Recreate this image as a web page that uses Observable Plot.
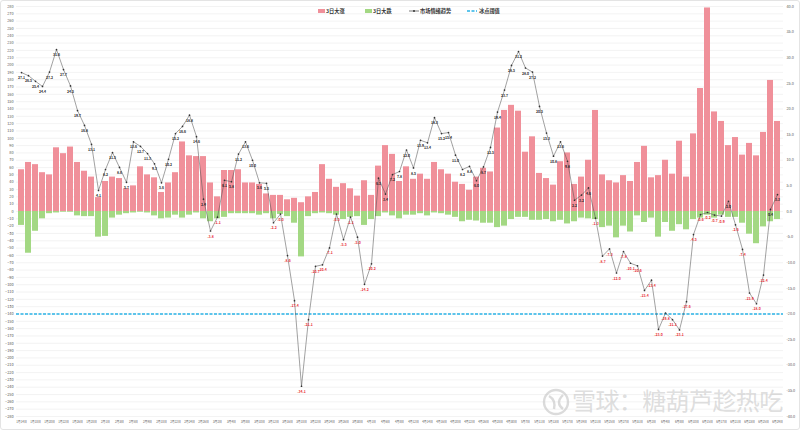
<!DOCTYPE html>
<html><head><meta charset="utf-8">
<script src="https://cdn.jsdelivr.net/npm/d3@7"></script>
<script src="https://cdn.jsdelivr.net/npm/@observablehq/plot@0.6"></script>
<style>
body{margin:0;background:#fff;font-family:"Noto Sans CJK SC","Noto Sans",sans-serif;}
#wrap{position:relative;width:800px;height:430px;overflow:hidden;background:#fff}
#frame{position:absolute;left:0;top:0;width:798px;height:428px;border:1px solid #e4e4e4;border-radius:3px;pointer-events:none}
.lg{position:absolute;top:8px;font-size:5.2px;font-weight:bold;color:#333;line-height:6px;white-space:nowrap}
.sw{position:absolute;top:9px;width:7px;height:4px}
#wm{position:absolute;left:572px;top:386px;font-size:24px;line-height:28px;color:rgba(195,195,195,0.55);letter-spacing:-0.6px;white-space:nowrap;font-family:"Noto Sans CJK SC",sans-serif}
#logo{position:absolute;left:542px;top:388px}
</style></head>
<body>
<div id="wrap">
  <div id="chart"></div>
  <div class="sw" style="left:318px;background:#f0909a"></div><div class="lg" style="left:326px">3日大涨</div>
  <div class="sw" style="left:365px;background:#a3d883"></div><div class="lg" style="left:373px">3日大跌</div>
  <svg style="position:absolute;left:409px;top:8px" width="10" height="6"><line x1="0" y1="3" x2="10" y2="3" stroke="#444" stroke-width="0.7"/><circle cx="5" cy="3" r="1" fill="#333"/></svg>
  <div class="lg" style="left:420px">市场情绪趋势</div>
  <svg style="position:absolute;left:467px;top:8px" width="10" height="6"><line x1="0" y1="3" x2="10" y2="3" stroke="#2ab3e6" stroke-width="1.5" stroke-dasharray="3,1.5"/></svg>
  <div class="lg" style="left:479px">冰点阈值</div>
  <svg id="logo" width="28" height="28"><circle cx="14" cy="14" r="12" fill="none" stroke="rgba(195,195,195,0.6)" stroke-width="2.4"/><path d="M7 8 Q14 12 12 21 M21 7 Q13 15 21 21" fill="none" stroke="rgba(195,195,195,0.6)" stroke-width="2.4"/></svg>
  <div id="wm">雪球：糖葫芦趁热吃</div>
  <div id="frame"></div>
</div>
<script>
const dates = ["1月14日","1月15日","1月18日","1月19日","1月20日","1月21日","1月22日","1月25日","1月26日","1月27日","1月28日","1月29日",
"2月1日","2月2日","2月3日","2月4日","2月5日","2月8日","2月9日","2月10日","2月18日","2月19日","2月22日","2月23日","2月24日","2月25日","2月26日",
"3月1日","3月2日","3月3日","3月4日","3月5日","3月8日","3月9日","3月10日","3月11日","3月12日","3月15日","3月16日","3月17日","3月18日","3月19日","3月22日","3月23日","3月24日","3月25日","3月26日","3月29日","3月30日","3月31日",
"4月1日","4月2日","4月6日","4月7日","4月8日","4月9日","4月12日","4月13日","4月14日","4月15日","4月16日","4月19日","4月20日","4月21日","4月22日","4月23日","4月26日","4月27日","4月28日","4月29日","4月30日",
"5月6日","5月7日","5月10日","5月11日","5月12日","5月13日","5月14日","5月17日","5月18日","5月19日","5月20日","5月21日","5月24日","5月25日","5月26日","5月27日","5月28日","5月31日",
"6月1日","6月2日","6月3日","6月4日","6月7日","6月8日","6月9日","6月10日","6月11日","6月15日","6月16日","6月17日","6月18日","6月21日","6月22日","6月23日","6月24日","6月25日","6月28日","6月29日"];

// 3日大涨 (left axis)
const up = [57,67,64,53,50,87,79,88,67,55,47,19,41,47,45,31,35,61,50,46,26,39,53,95,76,75,75,39,20,56,56,57,39,39,37,24,
22,22,16,18,12,20,26,64,44,33,38,31,21,42,22,62,90,78,41,61,44,51,44,67,57,51,40,37,
29,47,59,54,114,138,145,137,81,102,52,45,36,68,80,37,47,70,138,
50,42,39,49,41,67,89,46,49,70,51,96,47,106,168,278,136,123,90,101,77,93,76,108,179,123];

// 3日大跌 (left axis)
const down = [-19,-57,-27,-10,-3,-2,-1,-1,-6,-7,-7,-35,-34,-9,-5,-3,-2,-1,-2,-6,-10,-9,-5,-9,-5,-2,-10,-14,-10,-8,-3,-3,-3,-3,-5,-3,
-10,-4,-7,-16,-62,-7,-3,-2,-3,-5,-11,-8,-7,-19,-11,-7,-2,-6,-10,-5,-5,-3,-6,-2,-3,-5,-8,-14,
-12,-13,-16,-16,-22,-20,-11,-8,-8,-12,-12,-11,-14,-12,-17,-14,-9,-10,-11,
-22,-20,-36,-20,-28,-6,-15,-9,-35,-15,-27,-18,-25,-11,-9,-5,-9,-5,-8,-8,-16,-31,-44,-21,-14,-11];

// 市场情绪趋势 (right axis)
const mood = [27.1,26.5,25.4,24.4,27.2,31.6,27.7,24.5,19.7,16.8,13.1,4.1,8.2,11.5,8.6,5.7,13.6,12.7,11.3,9.3,5.6,10.2,15.2,16.6,18.8,14.6,2.4,-3.8,-1.1,6.1,5.8,11.2,13.6,10.0,5.6,5.5,
-2.2,-0.5,-8.6,-17.4,-34.1,-21.1,-10.7,-10.4,-7.1,-0.5,-5.5,-1.1,-5.0,-14.2,-10.2,
6.5,3.4,7.2,7.8,12.0,8.5,13.9,13.4,18.3,15.2,15.4,11.0,8.2,
8.8,6.0,8.7,12.5,19.4,23.7,28.5,31.2,28.0,27.2,20.5,15.3,10.8,13.6,9.8,2.2,3.2,4.6,-1.3,
-8.7,-7.3,-12.0,-7.8,-10.1,-10.6,-15.4,-13.4,-23.0,-19.8,-21.1,-23.1,-17.6,-4.5,-0.6,-0.2,-0.7,-0.9,2.0,-2.6,-7.4,-15.9,-18.0,-12.4,0.4,3.3];

const threshold = -20; // 冰点阈值 (right axis)
const leftTicks = [280,270,260,250,240,230,220,210,200,190,180,170,160,150,140,130,120,110,100,90,80,70,60,50,40,30,20,10,0,
-10,-20,-30,-40,-50,-60,-70,-80,-90,-100,-110,-120,-130,-140,-150,-160,-170,-180,-190,-200,-210,-220,-230,-240,-250,-260,-270,-280];
const rightTicks = [40,35,30,25,20,15,10,5,0,-5,-10,-15,-20,-25,-30,-35,-40];
const ratio = 7; // right axis 40 <-> left axis 280

const rows = dates.map((d, i) => ({d, up: up[i], down: down[i], mood: mood[i]}));
const my = r => r.mood * ratio;

const chart = Plot.plot({
  width: 800, height: 430,
  marginTop: 6, marginBottom: 14, marginLeft: 16, marginRight: 17,
  style: {fontFamily: '"Noto Sans CJK SC","Noto Sans",sans-serif', fontSize: "3.8px", background: "transparent"},
  x: {type: "band", domain: dates, paddingInner: 0.12, paddingOuter: 0, axis: null},
  y: {domain: [-280, 280], axis: null},
  marks: [
    Plot.gridY(leftTicks, {stroke: "#ebebeb", strokeOpacity: 1, strokeWidth: 0.6}),
    Plot.barY(rows, {x: "d", y: "up", fill: "#f0909a"}),
    Plot.barY(rows, {x: "d", y: "down", fill: "#a3d883"}),
    Plot.ruleY([threshold * ratio], {stroke: "#2ab3e6", strokeWidth: 1.6, strokeDasharray: "3,1.5"}),
    Plot.line(rows, {x: "d", y: my, stroke: "#555", strokeWidth: 0.55}),
    Plot.dot(rows, {x: "d", y: my, r: 0.85, fill: "#333", stroke: "none"}),
    Plot.text(rows, {x: "d", y: my, text: r => r.mood.toFixed(1), dy: 5.5, fontSize: 3.4, fontWeight: "bold",
      fill: r => r.mood < 0 ? "#e8262d" : "#222"}),
    Plot.axisY(leftTicks, {anchor: "left", tickSize: 0, tickPadding: 3, fontSize: 3.8, fill: "#555", label: null}),
    Plot.axisY(rightTicks.map(v => v * ratio), {anchor: "right", tickSize: 0, tickPadding: 3, fontSize: 3.8, fill: "#555", label: null,
      tickFormat: v => (v / ratio).toFixed(1)}),
    Plot.axisX(dates.filter((_, i) => i % 2 === 0), {anchor: "bottom", tickSize: 0, tickPadding: 4, fontSize: 2.9, fill: "#555", label: null})
  ]
});
document.getElementById("chart").appendChild(chart);
</script>
</body></html>
